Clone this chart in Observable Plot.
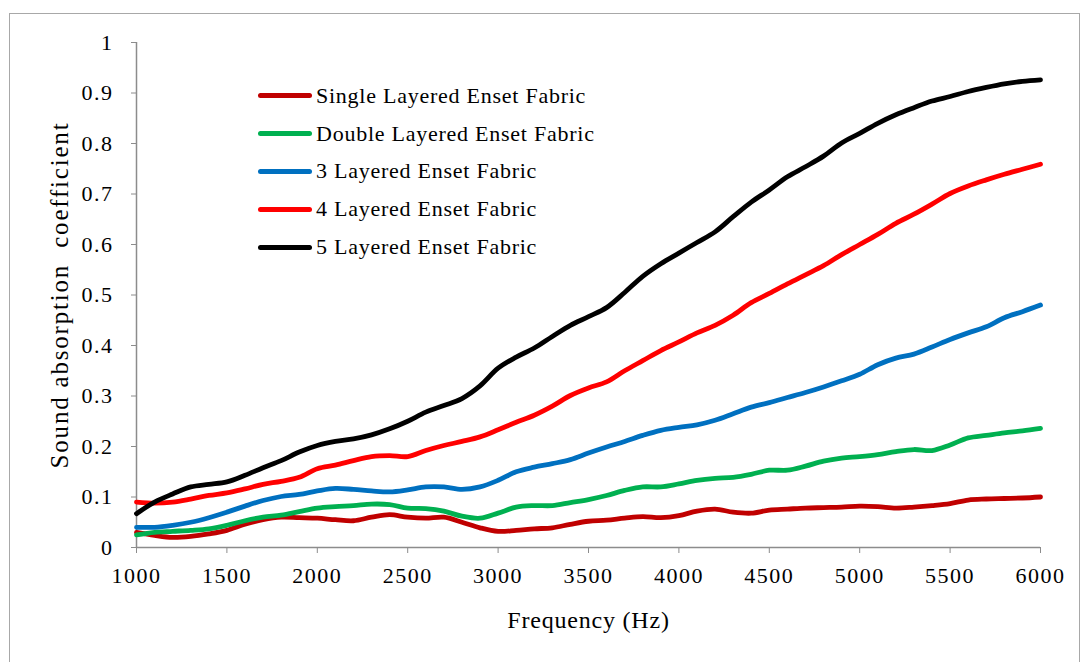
<!DOCTYPE html>
<html>
<head>
<meta charset="utf-8">
<script src="https://cdn.jsdelivr.net/npm/d3@7"></script>
<script src="https://cdn.jsdelivr.net/npm/@observablehq/plot@0.6"></script>
<style>
  body { margin: 0; background: #fff; }
  #wrap { position: relative; width: 1092px; height: 662px; overflow: hidden; background: #fff; }
  #border { position: absolute; left: 9px; top: 13px; width: 1071px; height: 700px; border: 1.5px solid #a8a8a8; box-sizing: border-box; pointer-events: none; }
  #chart { position: absolute; left: 0; top: 0; }
  #legend { position: absolute; left: 258px; top: 77px; font-family: "Liberation Serif", "Times New Roman", serif; font-size: 22px; letter-spacing: 0.75px; color: #000; }
  .row { display: flex; align-items: center; height: 37.8px; white-space: nowrap; }
  .sw { width: 54px; height: 5px; border-radius: 3px; margin-right: 4px; }
</style>
</head>
<body>
<div id="wrap">
  <div id="chart"></div>
  <div id="legend"></div>
  <div id="border"></div>
</div>
<script>
const frequency = [1000,1100,1200,1300,1400,1500,1600,1700,1800,1900,
  2000,2100,2200,2300,2400,2500,2600,2700,2800,2900,
  3000,3100,3200,3300,3400,3500,3600,3700,3800,3900,
  4000,4100,4200,4300,4400,4500,4600,4700,4800,4900,
  5000,5100,5200,5300,5400,5500,5600,5700,5800,5900,6000];

const seriesNames = ["Single Layered Enset Fabric","Double Layered Enset Fabric","3 Layered Enset Fabric","4 Layered Enset Fabric","5 Layered Enset Fabric"];
const seriesColors = ["#C00000","#00B050","#0070C0","#FF0000","#000000"];

const single = [0.030,0.024,0.020,0.022,0.027,0.034,0.046,0.055,0.060,0.059,
  0.058,0.055,0.053,0.060,0.065,0.060,0.058,0.060,0.050,0.039,
  0.032,0.034,0.037,0.039,0.046,0.052,0.054,0.058,0.061,0.059,
  0.063,0.072,0.076,0.070,0.068,0.074,0.076,0.078,0.079,0.080,
  0.082,0.081,0.078,0.080,0.083,0.087,0.094,0.096,0.097,0.098,0.100];

const double = [0.025,0.030,0.032,0.034,0.037,0.044,0.053,0.060,0.064,0.071,
  0.078,0.081,0.083,0.086,0.085,0.078,0.077,0.072,0.062,0.058,
  0.068,0.080,0.083,0.083,0.089,0.095,0.103,0.113,0.120,0.120,
  0.126,0.133,0.137,0.139,0.145,0.153,0.153,0.161,0.171,0.177,
  0.180,0.184,0.190,0.194,0.192,0.203,0.217,0.222,0.227,0.231,0.236];

const layered3 = [0.040,0.040,0.044,0.050,0.059,0.070,0.082,0.093,0.101,0.105,
  0.112,0.117,0.115,0.112,0.110,0.114,0.120,0.120,0.115,0.120,
  0.133,0.150,0.159,0.166,0.174,0.187,0.199,0.210,0.222,0.232,
  0.238,0.243,0.252,0.265,0.278,0.287,0.297,0.307,0.318,0.330,
  0.343,0.362,0.375,0.383,0.397,0.412,0.425,0.437,0.455,0.467,0.480];

const layered4 = [0.090,0.088,0.090,0.096,0.103,0.108,0.116,0.125,0.131,0.139,
  0.156,0.163,0.172,0.180,0.182,0.180,0.192,0.202,0.210,0.219,
  0.233,0.248,0.262,0.280,0.301,0.316,0.328,0.350,0.370,0.390,
  0.407,0.425,0.440,0.460,0.485,0.503,0.522,0.540,0.558,0.580,
  0.600,0.620,0.642,0.660,0.680,0.701,0.716,0.728,0.739,0.749,0.759];

const layered5 = [0.067,0.090,0.106,0.120,0.125,0.130,0.143,0.158,0.172,0.189,
  0.202,0.210,0.215,0.223,0.235,0.250,0.268,0.281,0.295,0.320,
  0.355,0.377,0.395,0.418,0.440,0.457,0.475,0.505,0.537,0.562,
  0.583,0.604,0.625,0.655,0.684,0.708,0.734,0.754,0.775,0.801,
  0.820,0.840,0.857,0.871,0.884,0.893,0.903,0.911,0.918,0.923,0.926];

const xTicks = [1000,1500,2000,2500,3000,3500,4000,4500,5000,5500,6000];
const yTicks = [0,0.1,0.2,0.3,0.4,0.5,0.6,0.7,0.8,0.9,1];
const xLabel = "Frequency (Hz)";
const yLabel = "Sound absorption  coefficient";

const allSeries = [single, double, layered3, layered4, layered5];
const data = [];
allSeries.forEach((vals, i) => {
  vals.forEach((v, j) => data.push({f: frequency[j], v, s: seriesNames[i]}));
});

const font = '"Liberation Serif", "Times New Roman", serif';
const axisGrey = "#8c8c8c";

const chart = Plot.plot({
  width: 1092,
  height: 662,
  marginLeft: 136,
  marginRight: 52,
  marginTop: 42,
  marginBottom: 115,
  style: { fontFamily: font, fontSize: "22px", color: "#000", background: "transparent" },
  x: { domain: [1000, 6000] },
  y: { domain: [0, 1] },
  color: { domain: seriesNames, range: seriesColors },
  marks: [
    Plot.ruleX([1000], { stroke: axisGrey, strokeWidth: 1.5 }),
    Plot.ruleY([0], { stroke: axisGrey, strokeWidth: 1.5 }),
    Plot.axisX({ ticks: xTicks, tickSize: 6, tickPadding: 14, stroke: axisGrey, fill: "#000",
      tickFormat: d => String(d), label: null, fontSize: 22 }),
    Plot.axisX({ ticks: [], label: xLabel, labelAnchor: "center", labelOffset: 80, labelArrow: "none", fontSize: 24 }),
    Plot.axisY({ ticks: yTicks, tickSize: 5, tickPadding: 18, stroke: axisGrey, fill: "#000",
      tickFormat: d3.format("~g"), label: null, fontSize: 22 }),
    Plot.axisY({ ticks: [], label: yLabel, labelAnchor: "center", labelOffset: 86, labelArrow: "none", fontSize: 25 }),
    Plot.line(data, { x: "f", y: "v", stroke: "s", z: "s", strokeWidth: 4.8, curve: "catmull-rom" })
  ]
});
document.getElementById("chart").appendChild(chart);

const svg = d3.select(chart);
svg.selectAll('[aria-label="x-axis tick label"] text, [aria-label="y-axis tick label"] text').style("letter-spacing", "1.5px");
svg.selectAll('[aria-label="x-axis label"] text').style("letter-spacing", "0.8px");
svg.selectAll('[aria-label="y-axis label"] text').style("letter-spacing", "1.8px");

const legend = document.getElementById("legend");
seriesNames.forEach((name, i) => {
  const row = document.createElement("div");
  row.className = "row";
  const sw = document.createElement("div");
  sw.className = "sw";
  sw.style.background = seriesColors[i];
  const t = document.createElement("span");
  t.textContent = name;
  row.appendChild(sw);
  row.appendChild(t);
  legend.appendChild(row);
});
</script>
</body>
</html>
